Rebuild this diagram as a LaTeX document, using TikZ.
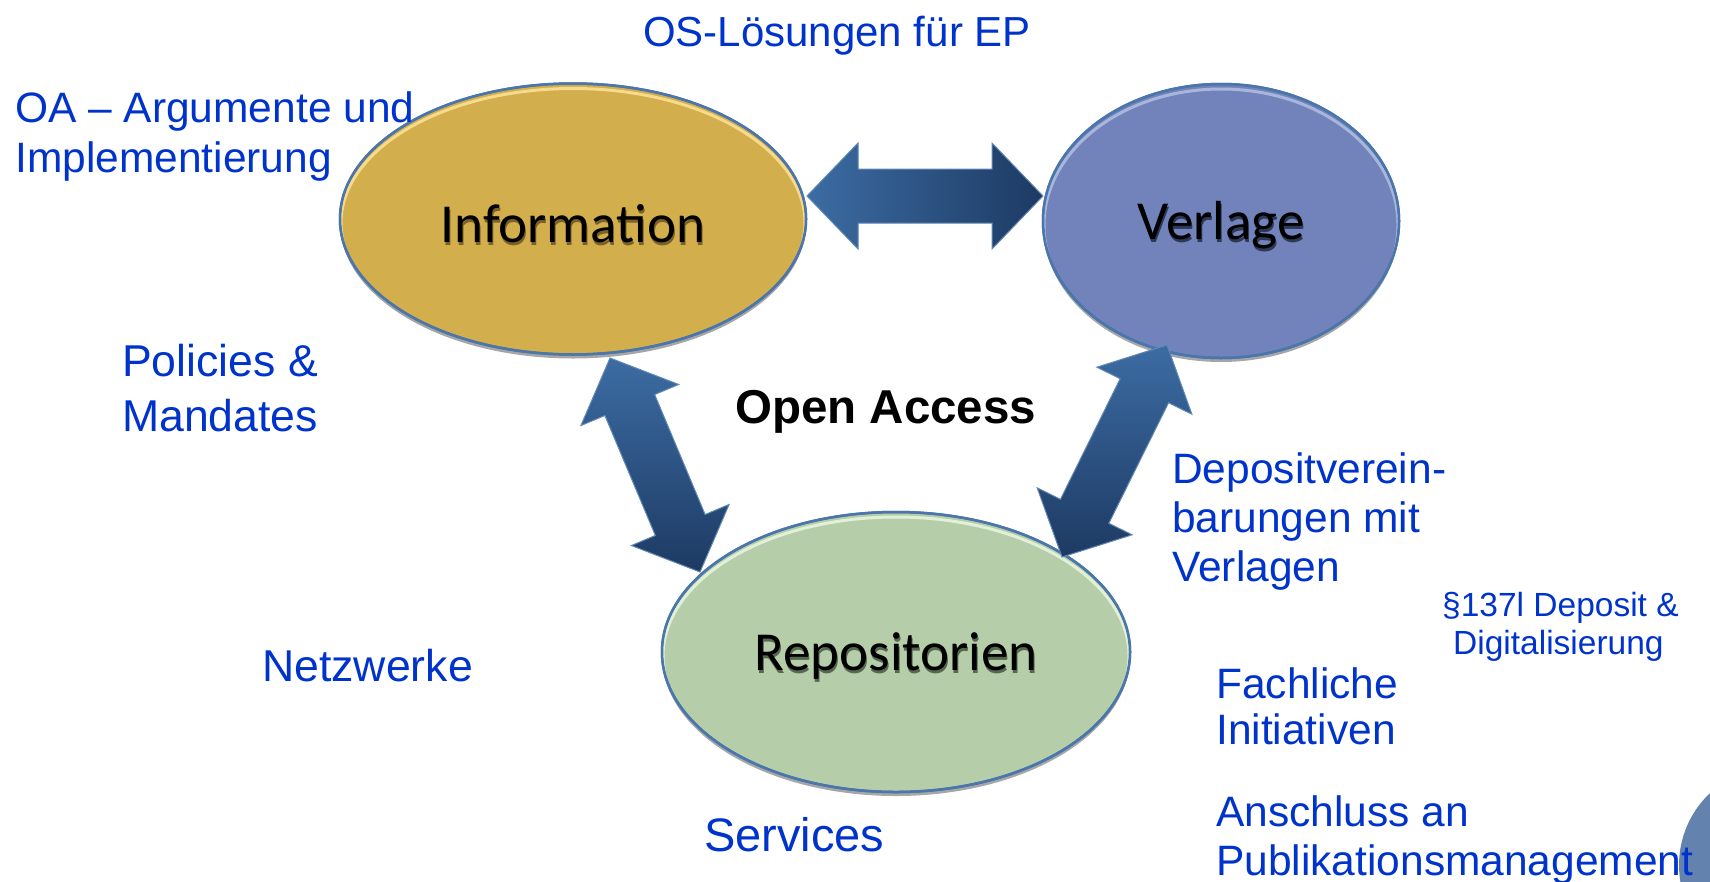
\documentclass[tikz,border=0pt]{standalone}
\usepackage{fontspec}
\setmainfont{Liberation Sans}
\newfontfamily\calib{Carlito}
\usetikzlibrary{shapes.geometric,calc,shadows}
\definecolor{txtblue}{HTML}{0033CC}
\definecolor{infofill}{HTML}{D3AE4C}
\definecolor{infohi}{HTML}{F7DA8C}
\definecolor{infosh}{HTML}{7A6128}
\definecolor{verfill}{HTML}{7183BA}
\definecolor{verhi}{HTML}{A9B6DC}
\definecolor{versh}{HTML}{2E3958}
\definecolor{repfill}{HTML}{B5CDA9}
\definecolor{rephi}{HTML}{E2F0D8}
\definecolor{repsh}{HTML}{56684F}
\definecolor{ellborder}{HTML}{4A76AC}
\definecolor{arrlight}{HTML}{3C6CA3}
\definecolor{arrdark}{HTML}{1D3A63}
\definecolor{cornerblue}{HTML}{6482AE}
\newcommand\shadowed[2]{\raisebox{-6pt}[\height][\depth]{\makebox[0pt][l]{\hspace{1pt}\raisebox{-3pt}{\textcolor{#2}{#1}}}#1}}
\newcommand\barrow[3]{%
\path[#1] (#2) -- ($(#2)!51pt!(#3)!53pt!90:(#3)$) -- ($(#2)!51pt!(#3)!27pt!90:(#3)$)
 -- ($(#3)!51pt!(#2)!27pt!-90:(#2)$) -- ($(#3)!51pt!(#2)!53pt!-90:(#2)$) -- (#3)
 -- ($(#3)!51pt!(#2)!53pt!90:(#2)$) -- ($(#3)!51pt!(#2)!27pt!90:(#2)$)
 -- ($(#2)!51pt!(#3)!27pt!-90:(#3)$) -- ($(#2)!51pt!(#3)!53pt!-90:(#3)$) -- cycle;}
\tikzset{
  ell/.style={ellipse, draw=ellborder, line width=2.5pt, inner sep=0pt,
    drop shadow={shadow xshift=0pt, shadow yshift=-4pt, fill=black, opacity=0.35},
    font=\calib\fontsize{55}{60}\selectfont, text=black},
  lbl/.style={anchor=base west, inner sep=0pt, text=txtblue},
  sz42/.style={font=\fontsize{42.5}{50}\selectfont},
  sz44/.style={font=\fontsize{44.6}{55}\selectfont},
  sz34/.style={font=\fontsize{33.5}{38}\selectfont},
  arrshadow/.style={fill=black, opacity=0.3},
  harrow/.style={left color=arrlight, right color=arrdark, draw=arrlight!80!white, line width=1pt},
  varrow/.style={top color=arrlight, bottom color=arrdark, draw=arrlight!80!white, line width=1pt},
  hilite/.style={line width=3pt},
}
\begin{document}
\begin{tikzpicture}[x=1pt,y=-1pt]
\useasboundingbox (0,0) rectangle (1710,881);
\fill[white] (0,0) rectangle (1710,881);
% corner circle
\begin{scope}
\clip (0,0) rectangle (1710,881);
\fill[cornerblue] (1778,865) circle [radius=99];
\end{scope}
% ellipses
\node[ell, fill=infofill, minimum width=466pt, minimum height=271pt] (info) at (573,219) {\shadowed{Information}{infosh}};
\node[ell, fill=verfill, minimum width=356pt, minimum height=274pt] (verl) at (1221,221) {\shadowed{Verlage}{versh}};
\node[ell, fill=repfill, minimum width=468pt, minimum height=280pt] (repo) at (896,652) {\shadowed{Repositorien}{repsh}};
% top highlights
\begin{scope}
\clip (info.center) ellipse [x radius=232, y radius=134.5];
\draw[infohi, hilite] ([yshift=-4pt]info.center) ellipse [x radius=232, y radius=134.5];
\end{scope}
\begin{scope}
\clip (verl.center) ellipse [x radius=177, y radius=136];
\draw[verhi, hilite] ([yshift=-4pt]verl.center) ellipse [x radius=177, y radius=136];
\end{scope}
\begin{scope}
\clip (repo.center) ellipse [x radius=233, y radius=139];
\draw[rephi, hilite] ([yshift=-4pt]repo.center) ellipse [x radius=233, y radius=139];
\end{scope}
\draw[ellborder, line width=2.5pt] (info.center) ellipse [x radius=233, y radius=135.5];
\draw[ellborder, line width=2.5pt] (verl.center) ellipse [x radius=178, y radius=137];
\draw[ellborder, line width=2.5pt] (repo.center) ellipse [x radius=234, y radius=140];
% arrow end points
\coordinate (h1) at (807,196);
\coordinate (h2) at (1043,196);
\coordinate (l1) at (610,358);
\coordinate (l2) at (700,572);
\coordinate (r1) at (1167,345);
\coordinate (r2) at (1062,557);
\begin{scope}[shift={(2,3)}]
\barrow{arrshadow}{h1}{h2}
\barrow{arrshadow}{l1}{l2}
\barrow{arrshadow}{r1}{r2}
\end{scope}
\barrow{harrow}{h1}{h2}
\barrow{varrow}{l1}{l2}
\barrow{varrow}{r1}{r2}
% texts
\node[lbl, font=\fontsize{42}{50}\selectfont] (os) at (643,46) {OS-Lösungen für EP};
\node[lbl, sz42] (oa1) at (15,122) {OA – Argumente und};
\node[lbl, sz42] (oa2) at (15,172) {Implementierung};
\node[lbl, sz44] (pol1) at (122,376) {Policies \&};
\node[lbl, sz44] (pol2) at (122,431) {Mandates};
\node[lbl, sz44] (net) at (262,681) {Netzwerke};
\node[lbl, font=\fontsize{47}{55}\selectfont] (serv) at (704,851) {Services};
\node[anchor=base west, inner sep=0pt, font=\bfseries\fontsize{47.5}{55}\selectfont, text=black] (oacc) at (735,423) {Open Access};
\node[lbl, sz42] (dep1) at (1172,483) {Depositverein-};
\node[lbl, sz42] (dep2) at (1172,532) {barungen mit};
\node[lbl, sz42] (dep3) at (1172,581) {Verlagen};
\node[lbl, sz34] (par1) at (1442,616) {§137l Deposit \&};
\node[lbl, sz34] (par2) at (1453,654) {Digitalisierung};
\node[lbl, sz42] (fach1) at (1216,698) {Fachliche};
\node[lbl, sz42] (fach2) at (1216,744) {Initiativen};
\node[lbl, sz42] (ans1) at (1216,826) {Anschluss an};
\node[lbl, sz42] (ans2) at (1216,875) {Publikationsmanagement};
\end{tikzpicture}
\end{document}
